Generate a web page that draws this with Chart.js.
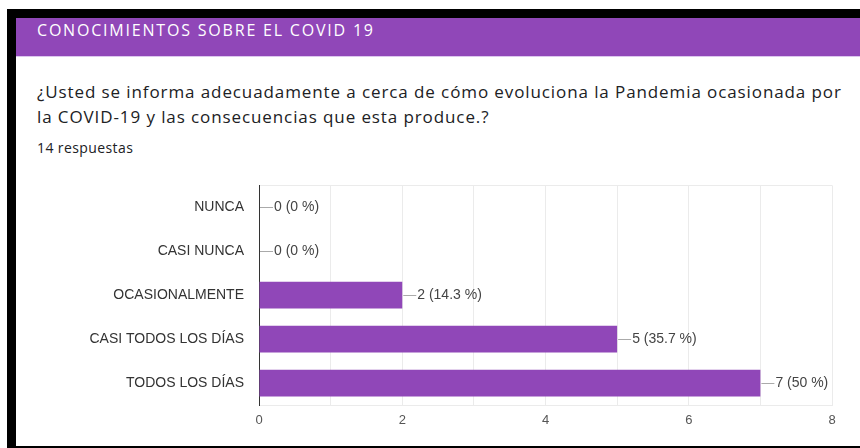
<!DOCTYPE html>
<html>
<head>
<meta charset="utf-8">
<script src="https://cdn.jsdelivr.net/npm/chart.js@4.4.0/dist/chart.umd.min.js"></script>
<style>
  html, body { margin: 0; padding: 0; background: #fff; }
  body { width: 860px; height: 448px; position: relative; overflow: hidden; }
  .frame-top { position: absolute; left: 7px; top: 9px; width: 853px; height: 9px; background: #000; }
  .frame-left { position: absolute; left: 7px; top: 9px; width: 9px; height: 439px; background: #000; }
  .frame-bottom { position: absolute; left: 7px; top: 446px; width: 853px; height: 2px; background: #000; }
  .header { position: absolute; left: 16px; top: 18px; width: 844px; height: 38px; background: #9047b8;
            border-bottom: 1px solid #dcc6ee; }
  .header span { position: absolute; left: 21px; top: 2px; line-height: 20px; font-family: "Open Sans", sans-serif;
                 font-size: 16px; font-weight: 500; letter-spacing: 1.8px; color: #fff; white-space: nowrap; }
  .question { position: absolute; left: 37px; top: 79px; font-family: "Open Sans", sans-serif;
              font-size: 17px; letter-spacing: 0.9px; line-height: 25px; color: #202124; white-space: nowrap; }
  .count { position: absolute; left: 37px; top: 140px; font-family: "Open Sans", sans-serif; font-size: 14px;
           letter-spacing: 0.4px; line-height: 16px; color: #202124; }
  .wrap { position: absolute; left: 16px; top: 162px; width: 844px; height: 284px; }
</style>
</head>
<body>
<div class="frame-top"></div>
<div class="frame-left"></div>
<div class="frame-bottom"></div>
<div class="header"><span>CONOCIMIENTOS SOBRE EL COVID 19</span></div>
<div class="question">¿Usted se informa adecuadamente a cerca de cómo evoluciona la Pandemia ocasionada por<br>la COVID-19 y las consecuencias que esta produce.?</div>
<div class="count">14 respuestas</div>
<div class="wrap"><canvas id="chart"></canvas></div>

<script>
const categories = ["NUNCA", "CASI NUNCA", "OCASIONALMENTE", "CASI TODOS LOS DÍAS", "TODOS LOS DÍAS"];
const counts = [0, 0, 2, 5, 7];
const totalAnswers = 14;
const xTickLabels = ["0", "", "2", "", "4", "", "6", "", "8"];

const purple = "#9047b8";

// label "n (p %)" with a little leader line at the end of each bar
const barLabels = {
  id: "barLabels",
  afterDatasetsDraw(chart) {
    const ctx = chart.ctx;
    const meta = chart.getDatasetMeta(0);
    ctx.save();
    ctx.font = "14px 'Liberation Sans', Arial, sans-serif";
    ctx.textBaseline = "middle";
    ctx.textAlign = "left";
    meta.data.forEach((bar, i) => {
      const v = counts[i];
      const pct = Math.round(v / totalAnswers * 1000) / 10;
      const x = bar.x + 1;
      ctx.strokeStyle = "#aaaaaa";
      ctx.lineWidth = 1;
      ctx.beginPath();
      ctx.moveTo(x, Math.round(bar.y) + 0.5);
      ctx.lineTo(x + 13, Math.round(bar.y) + 0.5);
      ctx.stroke();
      ctx.fillStyle = "#444";
      ctx.fillText(v + " (" + pct + " %)", x + 14, bar.y);
    });
    ctx.restore();
  }
};

new Chart(document.getElementById("chart"), {
  type: "bar",
  data: {
    labels: categories,
    datasets: [{
      data: counts,
      backgroundColor: purple,
      borderWidth: 0,
      barPercentage: 0.61,
      categoryPercentage: 1
    }]
  },
  options: {
    indexAxis: "y",
    responsive: true,
    maintainAspectRatio: false,
    animation: false,
    layout: { padding: { top: 0, right: 28, left: 0, bottom: 0 } },
    plugins: { legend: { display: false }, tooltip: { enabled: false } },
    scales: {
      x: {
        min: 0,
        max: 8,
        ticks: {
          stepSize: 1,
          padding: 8,
          color: "#555",
          font: { family: "'Liberation Sans', Arial, sans-serif", size: 13 },
          callback: (v, i) => xTickLabels[i]
        },
        grid: { color: "#ebebeb", drawTicks: false },
        border: { color: "#ebebeb" },
        afterFit: (s) => { s.height = 41; }
      },
      y: {
        ticks: {
          padding: 15,
          color: "#333",
          font: { family: "'Liberation Sans', Arial, sans-serif", size: 14 }
        },
        grid: { drawTicks: false, color: (c) => c.index === 0 ? "#ebebeb" : "rgba(0,0,0,0)" },
        border: { color: "#333", width: 1 },
        afterFit: (s) => { s.width = 243; }
      }
    }
  },
  plugins: [barLabels]
});
</script>
</body>
</html>
